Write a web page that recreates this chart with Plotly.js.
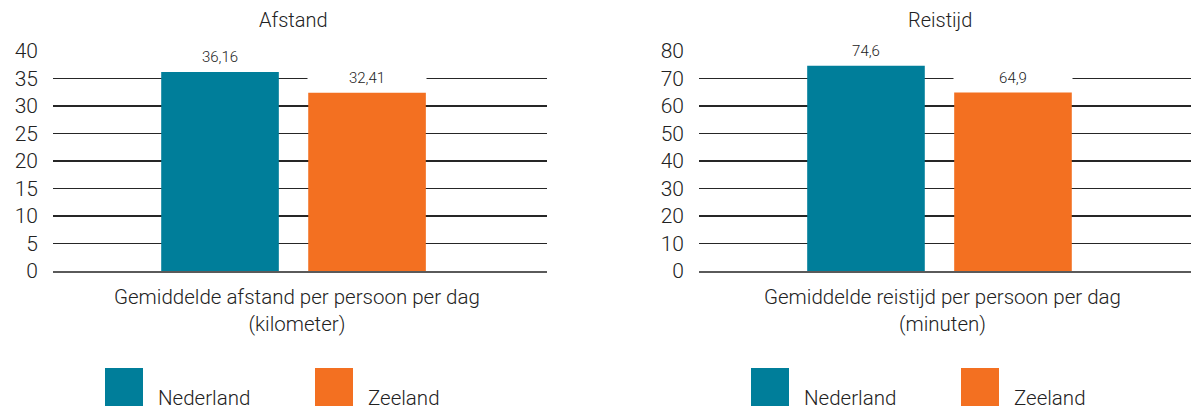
<!DOCTYPE html>
<html><head><meta charset="utf-8">
<script src="https://cdn.plot.ly/plotly-3.0.1.min.js"></script>
<style>html,body{margin:0;padding:0;background:#fff}#chart{width:1191px;height:412px}</style>
</head><body><div id="chart"></div>
<script>
// ---- data ----
const series = ['Nederland', 'Zeeland'];
const afstandValues = [36.16, 32.41];
const reistijdValues = [74.6, 64.9];
const afstandTicks = [0, 5, 10, 15, 20, 25, 30, 35, 40];
const reistijdTicks = [0, 10, 20, 30, 40, 50, 60, 70, 80];
const panelTitles = ['Afstand', 'Reistijd'];
const axisTitles = [
  'Gemiddelde afstand per persoon per dag<br>(kilometer)',
  'Gemiddelde reistijd per persoon per dag<br>(minuten)'
];
const colors = ['#007E9A', '#F37021'];

// ---- layout helpers ----
const W = 1191, H = 412, TOP = 51, BOT = 271;
const px2x = p => p / W;
const px2y = p => (BOT - p) / (BOT - TOP);
const panelOffset = [0, 646];
const FONT = 'Roboto, "Open Sans", sans-serif';
const TXT = '#222222';
const WT = 300;
const fmt = v => String(v).replace('.', ',');

const panels = [
  {vals: afstandValues, ticks: afstandTicks, xa: 'x', ya: 'y'},
  {vals: reistijdValues, ticks: reistijdTicks, xa: 'x2', ya: 'y2'}
];

const traces = [];
const annotations = [];
const shapes = [];

panels.forEach((p, pi) => {
  const off = panelOffset[pi];
  series.forEach((s, si) => {
    traces.push({
      type: 'bar', name: s, x: [s], y: [p.vals[si]],
      xaxis: p.xa, yaxis: p.ya, width: 0.8,
      marker: {color: colors[si], line: {width: 0}},
      showlegend: false, hoverinfo: 'skip'
    });
    annotations.push({
      xref: p.xa, yref: p.ya, x: s, y: p.vals[si],
      yshift: 15, yanchor: 'middle', xanchor: 'center',
      text: fmt(p.vals[si]), showarrow: false,
      bgcolor: '#ffffff', width: 116, height: 20, borderpad: 1,
      font: {family: FONT, size: 15, color: TXT, weight: WT}
    });
    // legend swatch + label
    const lx = 105 + off + si * 210;
    shapes.push({
      type: 'rect', xref: 'paper', yref: 'paper',
      x0: px2x(lx), x1: px2x(lx + 38), y0: px2y(406), y1: px2y(368),
      fillcolor: colors[si], line: {width: 0}
    });
    annotations.push({
      xref: 'paper', yref: 'paper', x: px2x(lx + 51), y: px2y(398),
      xanchor: 'left', yanchor: 'middle', text: s, showarrow: false,
      font: {family: FONT, size: 20.5, color: TXT, weight: WT}
    });
  });
  annotations.push({
    xref: 'paper', yref: 'paper', x: px2x(293.5 + off), y: px2y(20),
    xanchor: 'center', yanchor: 'middle', text: panelTitles[pi], showarrow: false,
    font: {family: FONT, size: 20, color: TXT, weight: WT}
  });
  annotations.push({
    xref: 'paper', yref: 'paper', x: px2x(296.5 + off), y: px2y(310),
    xanchor: 'center', yanchor: 'middle', text: axisTitles[pi], showarrow: false,
    font: {family: FONT, size: 20.5, color: TXT, weight: WT}
  });
});

const xBase = {
  type: 'category', categoryorder: 'array', categoryarray: series,
  showticklabels: false, showgrid: false, zeroline: false,
  showline: true, linecolor: 'rgba(40,40,40,0.77)', linewidth: 2,
  layer: 'above traces', ticks: '', fixedrange: true
};
const yBase = {
  showgrid: true, gridcolor: '#262626', gridwidth: 1.4,
  zeroline: false, showline: false, ticks: '',
  ticklabelstandoff: 14,
  tickfont: {family: FONT, size: 21, color: TXT, weight: WT}, fixedrange: true
};

const layout = {
  width: W, height: H,
  margin: {l: 0, r: 0, t: TOP, b: H - BOT, pad: 0},
  paper_bgcolor: '#ffffff', plot_bgcolor: '#ffffff',
  barmode: 'overlay', showlegend: false,
  font: {family: FONT, color: TXT, weight: WT},
  xaxis: Object.assign({}, xBase, {domain: [px2x(53), px2x(547)], range: [-1.136, 2.224], anchor: 'y'}),
  xaxis2: Object.assign({}, xBase, {domain: [px2x(699), 1], range: [-1.136, 2.211], anchor: 'y2'}),
  yaxis: Object.assign({}, yBase, {range: [0, 40], tickvals: afstandTicks, ticktext: afstandTicks.map(String), anchor: 'x'}),
  yaxis2: Object.assign({}, yBase, {range: [0, 80], tickvals: reistijdTicks, ticktext: reistijdTicks.map(String), anchor: 'x2'}),
  annotations: annotations,
  shapes: shapes
};

Plotly.newPlot('chart', traces, layout, {displayModeBar: false, staticPlot: true});
</script>
</body></html>
